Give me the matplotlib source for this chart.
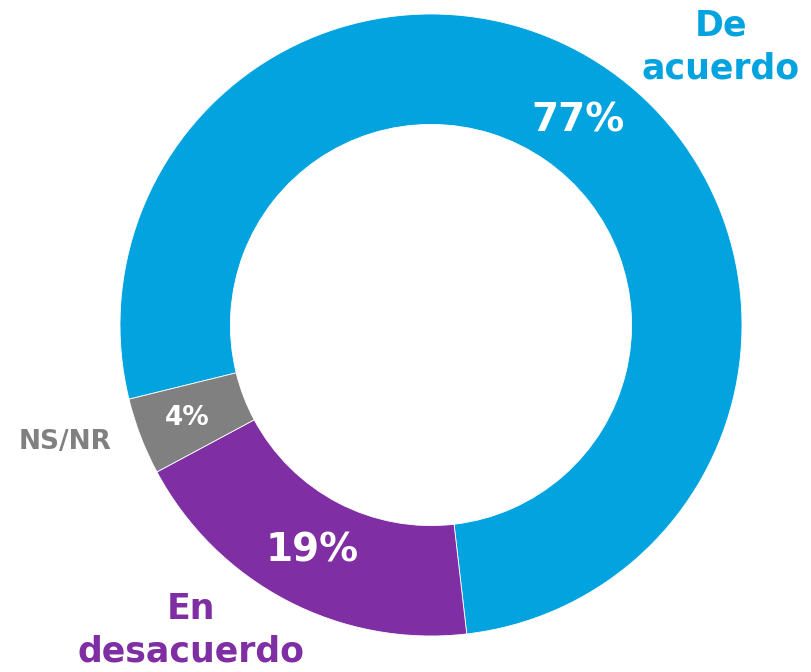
import matplotlib.pyplot as plt

labels = ['De\nacuerdo', 'En\ndesacuerdo', 'NS/NR']
values = [77, 19, 4]
colors = ['#02A3DF', '#7F2EA4', '#808080']

W, H = 812, 672
fig = plt.figure(figsize=(W / 100, H / 100), dpi=100)
ax = fig.add_axes([0, 0, 1, 1])
ax.set_xlim(0, W)
ax.set_ylim(0, H)
ax.set_aspect('equal')
ax.axis('off')

cx, cy, r = 431, H - 325, 311
wedges, _ = ax.pie(values, colors=colors, startangle=193.8, counterclock=False,
                   center=(cx, cy), radius=r,
                   wedgeprops=dict(width=r * 0.355, edgecolor='white', linewidth=0.6))
ax.set_xlim(0, W)
ax.set_ylim(0, H)

font = 'DejaVu Sans'
# percentages inside the ring
ax.text(578, H - 120, f'{values[0]}%', color='white', fontsize=28, fontweight='bold',
        ha='center', va='center', family=font)
ax.text(312, H - 551, f'{values[1]}%', color='white', fontsize=28, fontweight='bold',
        ha='center', va='center', family=font)
ax.text(187, H - 418, f'{values[2]}%', color='white', fontsize=19, fontweight='bold',
        ha='center', va='center', family=font)

# category labels
ax.text(721, H - 47, labels[0], color=colors[0], fontsize=25, fontweight='bold',
        ha='center', va='center', linespacing=1.3, family=font)
ax.text(191, H - 630, labels[1], color=colors[1], fontsize=25, fontweight='bold',
        ha='center', va='center', linespacing=1.3, family=font)
ax.text(65, H - 442, labels[2], color=colors[2], fontsize=19, fontweight='bold',
        ha='center', va='center', family=font)

fig.savefig('out.png', dpi=100)
